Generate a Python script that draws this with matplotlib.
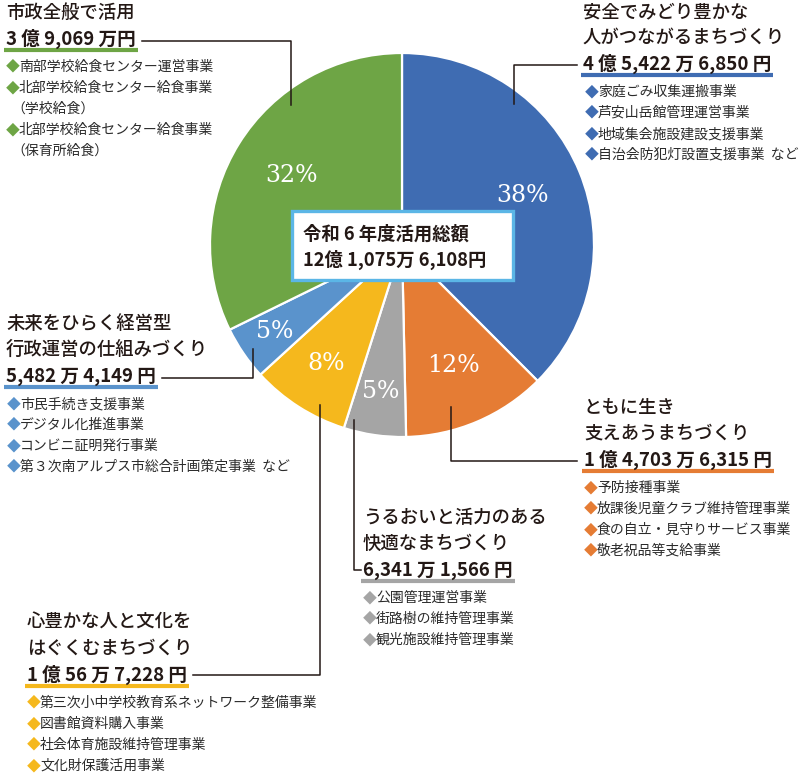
import matplotlib
matplotlib.use('Agg')
import matplotlib.pyplot as plt
from matplotlib.patches import Rectangle
import numpy as np

# ---------------- data ----------------
categories = [
    "安全でみどり豊かな\n人がつながるまちづくり",
    "ともに生き\n支えあうまちづくり",
    "うるおいと活力のある\n快適なまちづくり",
    "心豊かな人と文化を\nはぐくむまちづくり",
    "未来をひらく経営型\n行政運営の仕組みづくり",
    "市政全般で活用",
]
amounts = [454226850, 147036315, 63411566, 100567228, 54824149, 390690000]
projects = [
    ["家庭ごみ収集運搬事業", "芦安山岳館管理運営事業", "地域集会施設建設支援事業",
     "自治会防犯灯設置支援事業  など"],
    ["予防接種事業", "放課後児童クラブ維持管理事業", "食の自立・見守りサービス事業",
     "敬老祝品等支給事業"],
    ["公園管理運営事業", "街路樹の維持管理事業", "観光施設維持管理事業"],
    ["第三次小中学校教育系ネットワーク整備事業", "図書館資料購入事業",
     "社会体育施設維持管理事業", "文化財保護活用事業"],
    ["市民手続き支援事業", "デジタル化推進事業", "コンビニ証明発行事業",
     "第３次南アルプス市総合計画策定事業  など"],
    ["南部学校給食センター運営事業", "北部学校給食センター給食事業\n（学校給食）",
     "北部学校給食センター給食事業\n（保育所給食）"],
]
total_title = "令和 6 年度活用総額"
colors = ["#3f6cb2", "#e57c34", "#a5a5a5", "#f5b81d", "#5a93cc", "#6ea545"]

# ---------------- layout (pixels) ----------------
W, H = 804, 776
CX, CY, R = 402, 245, 192
pct_dist = [0.68, 0.68, 0.77, 0.73, 0.80, 0.68]
# block anchor: (title x, amount-line center y, bullet diamond x)
blocks = [(583, 64, 585), (584, 460, 584), (363, 570, 363),
          (27, 675, 27), (6, 376, 7), (6, 39, 6)]
leaders = [
    [(577, 65), (514, 65), (514, 104)],
    [(577, 461), (451, 461), (451, 407)],
    [(361, 570), (354, 570), (354, 420)],
    [(None, 675), (320, 675), (320, 405)],
    [(None, 378), (253, 378), (253, 349)],
    [(None, 41), (291, 41), (291, 105)],
]

JP = ['Noto Sans CJK JP', 'DejaVu Sans']
TXT = '#231815'
ITEM = '#2b2b2b'


def fmt_yen(v, sp=" "):
    oku, man, en = v // 10**8, (v // 10**4) % 10**4, v % 10**4
    parts = []
    if oku:
        parts.append(f"{oku}{sp}億")
    if man:
        parts.append(f"{man:,}{sp}万" + ("円" if en == 0 else ""))
    if en:
        parts.append(f"{en:,}{sp}円")
    return " ".join(parts)


plt.rcParams['font.family'] = JP
fig = plt.figure(figsize=(W / 100, H / 100), dpi=100)
ax = fig.add_axes([0, 0, 1, 1])

wedges, _ = ax.pie(amounts, colors=colors, center=(CX, CY), radius=R,
                   startangle=-90, counterclock=True,
                   wedgeprops=dict(edgecolor='white', linewidth=1.6))
ax.set_xlim(0, W)
ax.set_ylim(H, 0)
ax.set_aspect('auto')
ax.axis('off')

total = sum(amounts)
for w, v, f in zip(wedges, amounts, pct_dist):
    mid = np.deg2rad((w.theta1 + w.theta2) / 2)
    x = CX + R * f * np.cos(mid)
    y = CY + R * f * np.sin(mid)
    ax.text(x, y, f"{round(v / total * 100)}%", color='white', ha='center',
            va='center', fontsize=17, family=['DejaVu Serif'])

# center box
ax.add_patch(Rectangle((292, 211), 221, 69, facecolor='white',
                       edgecolor='#5bb6e6', linewidth=2.4, zorder=5))
ax.text(303, 234, total_title, fontsize=13.2, weight='bold', color=TXT,
        va='center', ha='left', zorder=6)
ax.text(303, 260, fmt_yen(total, sp=""), fontsize=13.2, weight='bold', color=TXT,
        va='center', ha='left', zorder=6)

fig.canvas.draw()
renderer = fig.canvas.get_renderer()
inv = ax.transData.inverted()

for i, (cat, amt, projs, col) in enumerate(zip(categories, amounts, projects, colors)):
    tx, ay, dx = blocks[i]
    lines = cat.split("\n")
    n = len(lines)
    for k, line in enumerate(lines):
        ax.text(tx, ay - 26 * (n - k), line, fontsize=13.2, weight='medium',
                color=TXT, va='center', ha='left')
    t = ax.text(tx, ay, fmt_yen(amt), fontsize=13.4, weight='bold', color=TXT,
                va='center', ha='left')
    bb = t.get_window_extent(renderer)
    (x0, _), (x1, _) = inv.transform([(bb.x0, 0), (bb.x1, 0)])
    ax.plot([x0 - 2, x1 + 2], [ay + 11, ay + 11], color=col, lw=3.0,
            solid_capstyle='butt')
    # leader line
    pts = [list(p) for p in leaders[i]]
    if pts[0][0] is None:
        pts[0][0] = x1 + 6
    ax.plot([p[0] for p in pts], [p[1] for p in pts], color='#231815', lw=1.1)
    # bullets
    yy = ay + 28
    for item in projs:
        sub = item.split("\n")
        ax.text(dx, yy, "◆", fontsize=10, color=col, va='center', ha='left')
        for j, s in enumerate(sub):
            xoff = 13 if j == 0 else 5
            ax.text(dx + xoff, yy, s, fontsize=10, color=ITEM, va='center', ha='left')
            yy += 21

fig.savefig("out.png", dpi=100)
